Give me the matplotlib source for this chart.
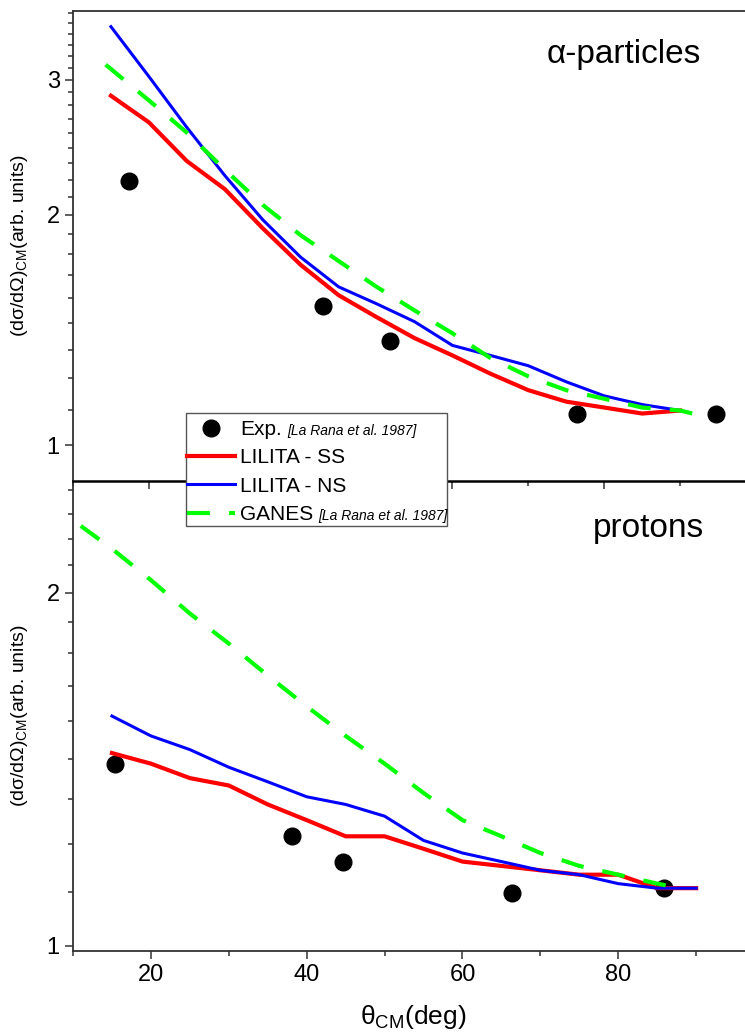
import matplotlib
matplotlib.use("Agg")
import matplotlib.pyplot as plt
from matplotlib.patches import Rectangle
from matplotlib.ticker import FixedLocator, FixedFormatter, NullFormatter

plt.rcParams['font.family'] = ['Liberation Sans', 'DejaVu Sans']
plt.rcParams['mathtext.fontset'] = 'custom'
plt.rcParams['mathtext.rm'] = 'Liberation Sans'
plt.rcParams['mathtext.it'] = 'Liberation Sans:italic'

# ---- alpha-particles (upper panel) ----
ang_exp_a = [17.4, 43.0, 51.8, 76.4, 94.7]
exp_a = [2.21, 1.52, 1.37, 1.10, 1.10]

ang_lil = [15, 20, 25, 30, 35, 40, 45, 50, 55, 60, 65, 70, 75, 80, 85, 90]
ss_a = [2.86, 2.64, 2.35, 2.16, 1.92, 1.72, 1.57, 1.47, 1.38, 1.31, 1.24, 1.18, 1.14, 1.12, 1.10, 1.11]
ns_a = [3.52, 3.03, 2.60, 2.25, 1.97, 1.76, 1.61, 1.53, 1.45, 1.35, 1.31, 1.27, 1.21, 1.16, 1.13, 1.11]

ang_ganes_a = [14.3, 20, 25, 30, 35, 40, 45, 50, 55, 60, 65, 70, 75, 80, 85, 90, 93.3]
ganes_a = [3.14, 2.82, 2.56, 2.29, 2.06, 1.88, 1.74, 1.61, 1.50, 1.40, 1.30, 1.23, 1.18, 1.15, 1.12, 1.11, 1.09]

# ---- protons (lower panel) ----
ang_exp_p = [15.4, 38.1, 44.7, 66.3, 85.9]
exp_p = [1.43, 1.24, 1.18, 1.11, 1.12]

ss_p = [1.46, 1.43, 1.39, 1.37, 1.32, 1.28, 1.24, 1.24, 1.21, 1.18, 1.17, 1.16, 1.15, 1.15, 1.12, 1.12]
ns_p = [1.57, 1.51, 1.47, 1.42, 1.38, 1.34, 1.32, 1.29, 1.23, 1.20, 1.18, 1.16, 1.15, 1.13, 1.12, 1.12]

ang_ganes_p = [11, 15, 20, 25, 30, 35, 40, 45, 50, 55, 60, 65, 70, 75, 80, 85, 88]
ganes_p = [2.28, 2.18, 2.05, 1.92, 1.81, 1.70, 1.60, 1.51, 1.43, 1.35, 1.28, 1.24, 1.20, 1.17, 1.15, 1.13, 1.12]

leg_labels = ['Exp.', 'LILITA - SS', 'LILITA - NS', 'GANES']
ref_txt = "[La Rana et al. 1987]"
ylab = r'(dσ/dΩ)$_{\mathrm{CM}}$(arb. units)'
xlab = r'θ$_{\mathrm{CM}}$(deg)'

red = '#ff0000'
blue = '#0000ff'
green = '#00ff00'
axcol = '#333333'

W, H = 745.0, 1036.0
fig = plt.figure(figsize=(W / 100, H / 100), dpi=100)
# axes run past the right edge of the figure, like in the original picture
ax1 = fig.add_axes([0.098, 0.5357, 0.9168, 0.4537])
ax2 = fig.add_axes([0.098, 0.0820, 0.941, 0.4537])
ax1.set_zorder(2)   # so the top panel's ticks are not hidden by the lower one


def draw_panel(ax, ang_e, y_e, ss, ns, ang_g, gan):
    pts, = ax.plot(ang_e, y_e, 'o', color='black', ms=12, zorder=2)
    l1, = ax.plot(ang_lil, ss, '-', color=red, lw=3.0, zorder=3)
    l2, = ax.plot(ang_lil, ns, '-', color=blue, lw=2.2, zorder=4)
    l3, = ax.plot(ang_g, gan, color=green, lw=3.0, ls=(0, (5.5, 4.6)), zorder=5)
    return pts, l1, l2, l3


handles = draw_panel(ax1, ang_exp_a, exp_a, ss_a, ns_a, ang_ganes_a, ganes_a)
draw_panel(ax2, ang_exp_p, exp_p, ss_p, ns_p, ang_ganes_p, ganes_p)

for ax, lims in [(ax1, (0.898, 3.69)), (ax2, (0.99, 2.49))]:
    ax.set_yscale('log')
    ax.set_ylim(*lims)
    ax.set_xlim(10, 100)
    maj = [v for v in [1, 2, 3] if lims[0] <= v <= lims[1]]
    ax.yaxis.set_major_locator(FixedLocator(maj))
    ax.yaxis.set_major_formatter(FixedFormatter([str(v) for v in maj]))
    mnr = []
    for base in [0, 1, 2, 3]:
        for k in range(1, 9):
            v = base + k / 9.0
            if lims[0] < v < lims[1]:
                mnr.append(v)
    ax.yaxis.set_minor_locator(FixedLocator(mnr))
    ax.yaxis.set_minor_formatter(NullFormatter())
    ax.xaxis.set_major_locator(FixedLocator([20, 40, 60, 80]))
    ax.xaxis.set_minor_locator(FixedLocator([10, 30, 50, 70, 90]))
    ax.tick_params(which='both', direction='out', color=axcol, width=1.1,
                   labelsize=17, top=False, right=False)
    ax.tick_params(which='major', length=6)
    ax.tick_params(which='minor', length=3.5)
    for s in ax.spines.values():
        s.set_color(axcol)
        s.set_linewidth(1.3)
    ax.spines['right'].set_visible(False)
    ax.set_ylabel(ylab, fontsize=14)

ax1.tick_params(labelbottom=False)
ax1.spines['bottom'].set_color('black')
ax1.spines['bottom'].set_linewidth(1.8)
ax1.yaxis.set_label_coords(-0.063, 0.5)
ax2.yaxis.set_label_coords(-0.0613, 0.5)
ax2.set_xlabel(xlab, fontsize=19)
ax2.xaxis.set_label_coords((413 - 73) / 701.0, -0.111)

fig.text(624 / W, 1 - 63 / H, 'α-particles', ha='center', va='baseline', fontsize=24)
fig.text(648 / W, 1 - 537 / H, 'protons', ha='center', va='baseline', fontsize=24)

# legend box drawn by hand so it also holds the italic references
box = Rectangle((186 / W, 1 - 526 / H), 261 / W, 113 / H, transform=fig.transFigure,
                facecolor='white', edgecolor='#555555', lw=1.0, zorder=4.5)
fig.patches.append(box)

leg = fig.legend(handles, leg_labels, loc='upper left',
                 bbox_to_anchor=(187 / W, 1 - 420 / H),
                 fontsize=15, frameon=False, borderpad=0, labelspacing=0.45,
                 handlelength=2.3, handletextpad=0.25, borderaxespad=0)
leg.set_zorder(5)

# italic reference after "Exp." and "GANES"
fig.canvas.draw()
inv = fig.transFigure.inverted()
for t in [leg.get_texts()[0], leg.get_texts()[3]]:
    bb = t.get_window_extent()
    x, y = inv.transform((bb.x1 + 5, bb.y0 + 1))
    fig.text(x, y, ref_txt, fontsize=10, style='italic', ha='left', va='bottom', zorder=10)

fig.savefig('out.png', dpi=100)
